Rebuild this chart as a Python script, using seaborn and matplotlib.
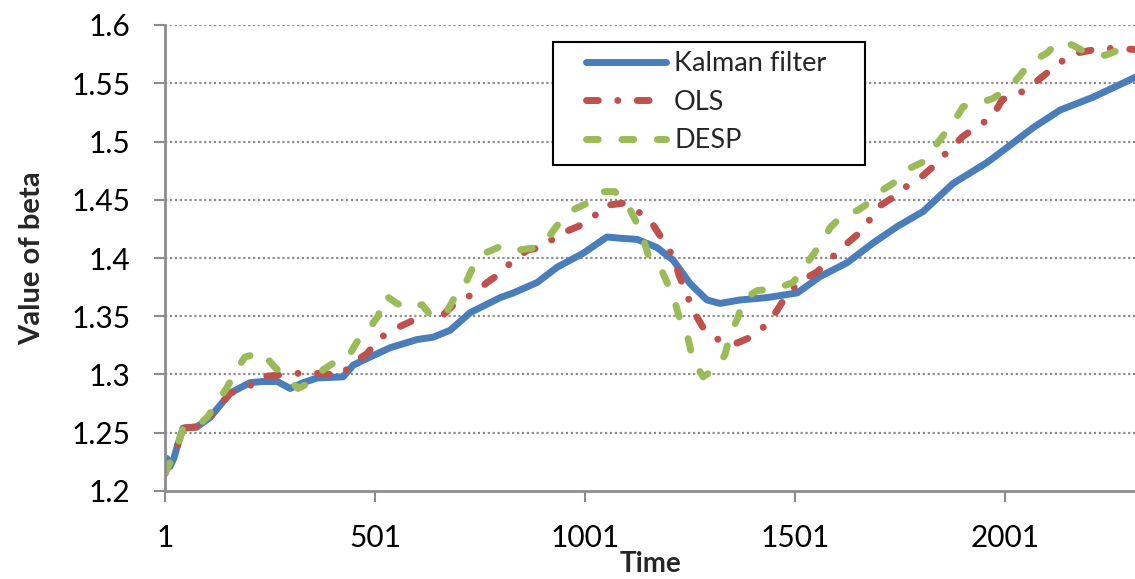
import numpy as np
import pandas as pd
import seaborn as sns
import matplotlib.pyplot as plt
from matplotlib.patches import Rectangle

# Time index and estimated beta for each method
kalman_t = [1, 5, 13, 22, 30, 44, 77, 108, 156, 203, 234, 268, 299, 330, 363, 425,
            449, 489, 537, 601, 639, 680, 727, 799, 830, 887, 934, 996, 1053, 1084,
            1125, 1172, 1211, 1251, 1291, 1322, 1370, 1434, 1506, 1560, 1625, 1687,
            1744, 1806, 1877, 1958, 2006, 2068, 2132, 2210, 2310]
kalman_beta = [1.215, 1.228, 1.221, 1.228, 1.238, 1.254, 1.255, 1.263, 1.284, 1.293,
               1.294, 1.294, 1.288, 1.293, 1.297, 1.298, 1.308, 1.315, 1.323, 1.330,
               1.332, 1.338, 1.353, 1.366, 1.370, 1.379, 1.392, 1.404, 1.418, 1.417,
               1.416, 1.409, 1.398, 1.378, 1.364, 1.361, 1.364, 1.366, 1.370, 1.384,
               1.396, 1.413, 1.427, 1.440, 1.464, 1.482, 1.495, 1.512, 1.527, 1.538,
               1.555]

ols_t = [1, 30, 44, 77, 108, 156, 199, 227, 318, 375, 418, 453, 482, 511, 553, 589,
         620, 663, 691, 734, 768, 799, 827, 865, 899, 937, 984, 1018, 1046, 1091,
         1127, 1160, 1187, 1211, 1225, 1244, 1258, 1284, 1318, 1363, 1408, 1437,
         1458, 1484, 1518, 1553, 1582, 1613, 1649, 1675, 1699, 1734, 1768, 1806,
         1834, 1863, 1899, 1930, 1970, 1994, 2030, 2070, 2101, 2132, 2172, 2215,
         2258, 2310]
ols_beta = [1.215, 1.238, 1.254, 1.255, 1.263, 1.284, 1.289, 1.298, 1.301, 1.301,
            1.299, 1.311, 1.318, 1.331, 1.340, 1.346, 1.356, 1.351, 1.361, 1.369,
            1.379, 1.387, 1.397, 1.407, 1.409, 1.420, 1.427, 1.434, 1.445, 1.447,
            1.440, 1.430, 1.415, 1.401, 1.385, 1.368, 1.355, 1.339, 1.330, 1.327,
            1.334, 1.345, 1.355, 1.370, 1.381, 1.388, 1.398, 1.409, 1.420, 1.431,
            1.444, 1.452, 1.462, 1.471, 1.480, 1.491, 1.504, 1.512, 1.521, 1.536,
            1.540, 1.550, 1.559, 1.568, 1.576, 1.579, 1.580, 1.579]

desp_t = [1, 30, 44, 77, 103, 125, 149, 168, 191, 232, 263, 291, 318, 351, 377, 411,
          437, 458, 484, 508, 525, 553, 577, 613, 637, 672, 696, 720, 739, 768, 806,
          846, 887, 918, 941, 970, 1006, 1037, 1072, 1103, 1120, 1139, 1151, 1180,
          1196, 1215, 1227, 1246, 1258, 1282, 1315, 1334, 1346, 1365, 1377, 1410,
          1458, 1496, 1520, 1544, 1568, 1584, 1615, 1651, 1675, 1703, 1734, 1768,
          1803, 1830, 1851, 1877, 1901, 1941, 1972, 2013, 2037, 2061, 2101, 2125,
          2160, 2196, 2239, 2275, 2310]
desp_beta = [1.215, 1.238, 1.254, 1.255, 1.264, 1.276, 1.289, 1.302, 1.315, 1.319,
             1.306, 1.297, 1.288, 1.294, 1.304, 1.312, 1.315, 1.328, 1.338, 1.350,
             1.368, 1.361, 1.357, 1.360, 1.349, 1.354, 1.370, 1.381, 1.396, 1.405,
             1.411, 1.407, 1.409, 1.420, 1.431, 1.441, 1.447, 1.457, 1.457, 1.445,
             1.433, 1.417, 1.403, 1.392, 1.379, 1.362, 1.347, 1.331, 1.312, 1.298,
             1.306, 1.317, 1.334, 1.349, 1.364, 1.372, 1.374, 1.379, 1.391, 1.403,
             1.415, 1.426, 1.437, 1.441, 1.447, 1.457, 1.464, 1.476, 1.482, 1.494,
             1.504, 1.516, 1.530, 1.533, 1.537, 1.547, 1.557, 1.568, 1.576, 1.585,
             1.583, 1.576, 1.574, 1.579, 1.578]

x_ticks = [1, 501, 1001, 1501, 2001]
y_ticks = [1.2, 1.25, 1.3, 1.35, 1.4, 1.45, 1.5, 1.55, 1.6]
y_tick_labels = ["1.2", "1.25", "1.3", "1.35", "1.4", "1.45", "1.5", "1.55", "1.6"]

sns.set_theme(style="white")
plt.rcParams['font.family'] = ['Lato', 'DejaVu Sans']

W, H = 1135, 579
fig = plt.figure(figsize=(W / 100, H / 100), dpi=100)
ax = fig.add_axes([165 / W, (H - 491) / H, 1 - 165 / W, (491 - 25) / H])

LW = 5
sns.lineplot(x=kalman_t, y=kalman_beta, ax=ax, color="#4A7EBB", lw=LW,
             label="Kalman filter", solid_capstyle="round", solid_joinstyle="round")
sns.lineplot(x=ols_t, y=ols_beta, ax=ax, color="#C0504D", lw=LW, label="OLS",
             linestyle=(0, (1.7, 2.8, 0.01, 2.8)), dash_capstyle="round")
sns.lineplot(x=desp_t, y=desp_beta, ax=ax, color="#9BBB59", lw=LW, label="DESP",
             linestyle=(0, (1.7, 3.4)), dash_capstyle="round")

ax.set_xlim(1, 2310)
ax.set_ylim(1.2, 1.6)
ax.set_xticks(x_ticks)
ax.set_xticklabels([str(v) for v in x_ticks])
ax.set_yticks(y_ticks)
ax.set_yticklabels(y_tick_labels)

# dotted horizontal gridlines
for v in y_ticks[1:]:
    ax.axhline(v, color="#8C8C8C", lw=1.6, linestyle=(0, (1, 1.2)), zorder=0)

for side in ["top", "right"]:
    ax.spines[side].set_visible(False)
for side in ["left", "bottom"]:
    ax.spines[side].set_color("#8C8C8C")
    ax.spines[side].set_linewidth(2)

ax.tick_params(axis="y", which="major", direction="out", length=8, width=1.5,
               color="#8C8C8C", labelsize=21.5, pad=17, left=True, labelcolor="black")
ax.tick_params(axis="x", which="major", direction="out", length=8, width=1.5,
               color="#8C8C8C", labelsize=21.5, pad=16, bottom=True, labelcolor="black")

ax.set_ylabel("Value of beta", fontsize=21, fontweight="bold", labelpad=19)
ax.set_xlabel("Time", fontsize=20, fontweight="bold", labelpad=-1)

# legend entries without frame, boxed by a separate rectangle
leg = ax.legend(loc="upper left", bbox_to_anchor=(586 / W, 1 - 51 / H),
                bbox_transform=fig.transFigure, fontsize=19.5, frameon=False,
                borderaxespad=0, borderpad=0, handlelength=2.95,
                handletextpad=0.3, labelspacing=0.5)
box = Rectangle((553 / W, 1 - 165 / H), (865 - 553) / W, (165 - 42) / H,
                transform=fig.transFigure, fill=True, facecolor="white",
                edgecolor="black", lw=1.5, zorder=4)
fig.add_artist(box)
leg.set_zorder(5)
fig.add_artist(leg)

fig.savefig("out.png", dpi=100)
